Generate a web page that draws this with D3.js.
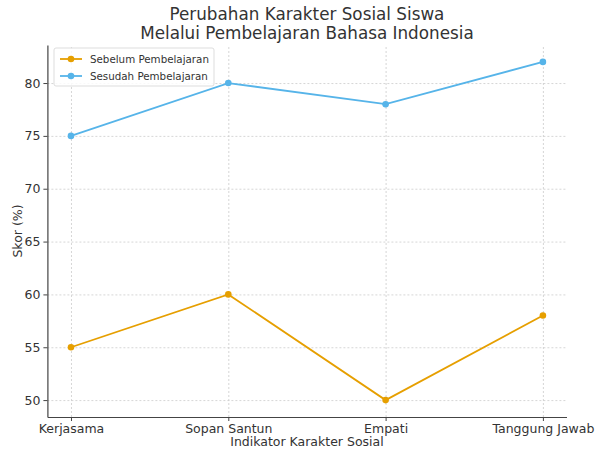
<!DOCTYPE html>
<html>
<head>
<meta charset="utf-8">
<script src="https://cdn.jsdelivr.net/npm/d3@7"></script>
<style>
body{margin:0;background:#fff;}
text{font-family:'DejaVu Sans',sans-serif;fill:#333;}
.grid line{stroke:#ccc;stroke-dasharray:2,2;stroke-width:0.8;}
.grid path{display:none;}
.axis path,.axis line{stroke:#444;}
</style>
</head>
<body>
<div id="root"></div>
<script>
// chart data
var categories=['Kerjasama','Sopan Santun','Empati','Tanggung Jawab'];
var sebelum=[55,60,50,58];
var sesudah=[75,80,78,82];
var seriesNames=['Sebelum Pembelajaran','Sesudah Pembelajaran'];
var yTicks=[50,55,60,65,70,75,80];

var W=595,H=452;
var b={t:45,r:28.5,b:35,l:47.4};
var w=W-b.l-b.r, h=417-b.t;

var svg=d3.select('#root').append('svg').attr('width',W).attr('height',H);
var g=svg.append('g').attr('transform','translate('+b.l+','+b.t+')');

var x=d3.scaleLinear().domain([-0.15,3.15]).range([0,w]);
var y=d3.scaleLinear().domain([48.4,83.6]).range([h,0]);

// grid
g.append('g').attr('class','grid').attr('transform','translate(0,'+h+')')
  .call(d3.axisBottom(x).tickValues(d3.range(categories.length)).tickSize(-h).tickFormat(''));
g.append('g').attr('class','grid')
  .call(d3.axisLeft(y).tickValues(yTicks).tickSize(-w).tickFormat(''));

// axes
var xa=g.append('g').attr('class','axis').attr('transform','translate(0,'+h+')')
  .call(d3.axisBottom(x).tickValues(d3.range(categories.length)).tickSize(4).tickSizeOuter(0).tickFormat(function(d){return categories[d]}));
var ya=g.append('g').attr('class','axis')
  .call(d3.axisLeft(y).tickValues(yTicks).tickSize(4).tickSizeOuter(0));
g.selectAll('.axis text').style('font-size','12.5px').style('font-family',"'DejaVu Sans',sans-serif").attr('fill','#333');
g.selectAll('.axis path').attr('stroke','#444').attr('stroke-width',1.2);

var colors=['#E69F00','#56B4E9'];
var all=[sebelum,sesudah];
var line=d3.line().x(function(d,i){return x(i)}).y(function(d){return y(d)});

all.forEach(function(s,k){
  g.append('path').datum(s).attr('d',line).attr('fill','none').attr('stroke',colors[k]).attr('stroke-width',1.8);
  g.selectAll('.pt'+k).data(s).enter().append('circle').attr('class','pt'+k)
    .attr('cx',function(d,i){return x(i)}).attr('cy',function(d){return y(d)})
    .attr('r',3.3).attr('fill',colors[k]);
});

// title
svg.append('text').attr('x',b.l+w/2).attr('y',20).attr('text-anchor','middle').style('font-size','16.8px').text('Perubahan Karakter Sosial Siswa');
svg.append('text').attr('x',b.l+w/2).attr('y',39).attr('text-anchor','middle').style('font-size','16.8px').text('Melalui Pembelajaran Bahasa Indonesia');

// axis labels
svg.append('text').attr('x',b.l+w/2).attr('y',446).attr('text-anchor','middle').style('font-size','12.5px').text('Indikator Karakter Sosial');
svg.append('text').attr('transform','translate(22,'+(b.t+h/2)+') rotate(-90)').attr('text-anchor','middle').style('font-size','12.5px').text('Skor (%)');

// legend
var lg=svg.append('g').attr('transform','translate(54,48)');
lg.append('rect').attr('width',160).attr('height',38).attr('rx',2).attr('fill','#fff').attr('fill-opacity',0.85).attr('stroke','#ddd');
var le=lg.selectAll('.le').data(seriesNames).enter().append('g').attr('transform',function(d,i){return 'translate(6,'+(11+i*17)+')'});
le.append('line').attr('x1',0).attr('x2',22).attr('stroke',function(d,i){return colors[i]}).attr('stroke-width',1.8);
le.append('circle').attr('cx',11).attr('r',3.3).attr('fill',function(d,i){return colors[i]});
le.append('text').attr('x',30).attr('y',4).style('font-size','10.3px').text(function(d){return d});
</script>
</body>
</html>
